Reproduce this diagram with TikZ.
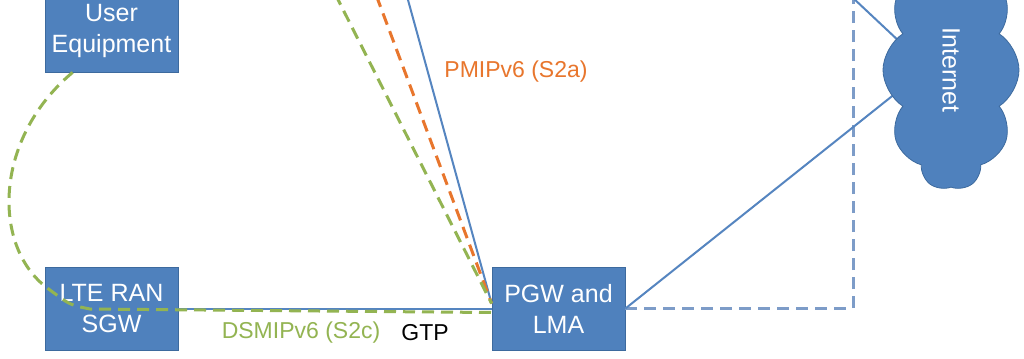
\documentclass[tikz,border=0pt]{standalone}
\usepackage{fontspec}
\setmainfont{Liberation Sans}
\usetikzlibrary{shapes.symbols}
\definecolor{boxblue}{HTML}{4F81BD}
\definecolor{boxedge}{HTML}{3D6A9E}
\definecolor{lineblue}{HTML}{5585C0}
\definecolor{dashblue}{HTML}{7D9CC8}
\definecolor{pmiporange}{HTML}{E8762D}
\definecolor{dsmipgreen}{HTML}{93B452}
\begin{document}
\begin{tikzpicture}[x=0.5pt,y=-0.5pt,
    netbox/.style={draw=boxedge,fill=boxblue,text=white,align=center,
      minimum width=66.5pt,minimum height=41.5pt,inner sep=1pt,
      font=\fontsize{12.5}{15.5}\selectfont},
    link/.style={draw=lineblue,line width=1pt},
    proto/.style={font=\fontsize{11.5}{13}\selectfont}]
  \useasboundingbox (0,0) rectangle (1024,359);
  \clip (0,0) rectangle (1024,359);
  \fill[white] (0,0) rectangle (1024,359);
  % nodes
  \node[netbox] (ue) at (111.5,30.5) {User\\Equipment};
  \node[netbox] (lte) at (111.5,308.5) {LTE RAN\\SGW};
  \node[netbox] (pgw) at (558.5,308.5) {PGW and\\LMA};
  % ends outside the frame
  \coordinate (upblue) at (397,-40);
  \coordinate (uporange) at (363,-40);
  \coordinate (upgreen) at (318,-40);
  \coordinate (upnet) at (820,-33);
  \coordinate (updash) at (853,-40);
  \coordinate (inA) at (950,89);
  \coordinate (inB) at (950,50);
  % links
  \draw[link] (lte.east) -- (pgw.west);
  \draw[link] (upblue) -- ([yshift=2.5pt]pgw.west);
  \draw[pmiporange,line width=1.5pt,dash pattern=on 6pt off 3.5pt]
    (uporange) -- ([yshift=2.5pt]pgw.west);
  \draw[dsmipgreen,line width=1.5pt,dash pattern=on 6pt off 3.5pt]
    (upgreen) -- ([yshift=2.5pt]pgw.west);
  \draw[dsmipgreen,line width=1.5pt,dash pattern=on 6pt off 3.5pt]
    (ue.south west) ++(28,0) .. controls (-8,140) and (-8,250) .. (50,290)
    .. controls (70,305) .. (90,309) -- ([yshift=-2pt]pgw.west);
  \draw[dashblue,line width=1.5pt,dash pattern=on 6pt off 3.5pt]
    (pgw.east) -| (updash);
  \draw[link] (pgw.east) -- (inB);
  \draw[link] (upnet) -- (inA);
  \node[cloud,cloud puffs=10,cloud puff arc=115,cloud ignores aspect,
    draw=boxedge,fill=boxblue,text=white,minimum width=120pt,
    minimum height=68pt,rotate=-90,
    font=\fontsize{12.5}{15}\selectfont] (inet) at (951,70) {Internet};
  % labels
  \node[proto,text=pmiporange] (s2a) at (516,72) {PMIPv6 (S2a)};
  \node[proto,text=dsmipgreen] (s2c) at (301,333) {DSMIPv6 (S2c)};
  \node[proto] (gtp) at (425,333) {GTP};
\end{tikzpicture}
\end{document}
